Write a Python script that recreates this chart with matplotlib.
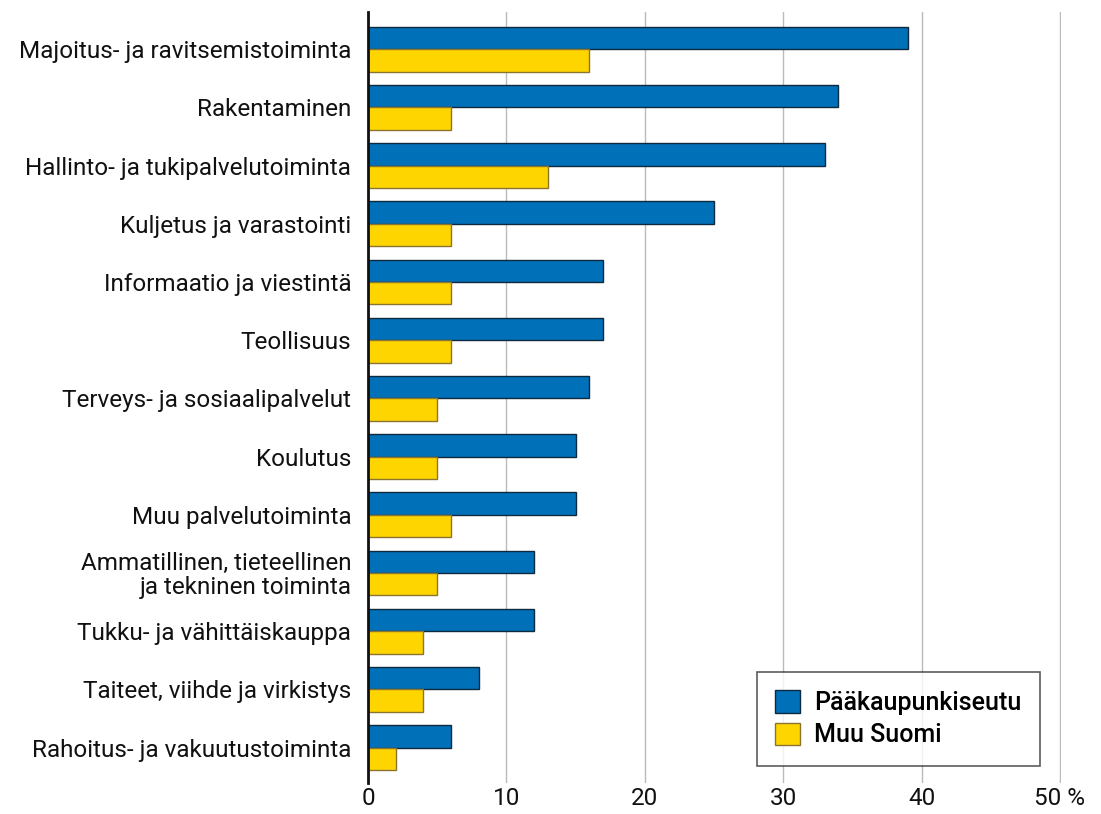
import numpy as np
import matplotlib.pyplot as plt
from matplotlib.patches import Patch

categories = [
    "Majoitus- ja ravitsemistoiminta",
    "Rakentaminen",
    "Hallinto- ja tukipalvelutoiminta",
    "Kuljetus ja varastointi",
    "Informaatio ja viestintä",
    "Teollisuus",
    "Terveys- ja sosiaalipalvelut",
    "Koulutus",
    "Muu palvelutoiminta",
    "Ammatillinen, tieteellinen\nja tekninen toiminta",
    "Tukku- ja vähittäiskauppa",
    "Taiteet, viihde ja virkistys",
    "Rahoitus- ja vakuutustoiminta",
]
paakaupunkiseutu = [39, 34, 33, 25, 17, 17, 16, 15, 15, 12, 12, 8, 6]
muu_suomi = [16, 6, 13, 6, 6, 6, 5, 5, 6, 5, 4, 4, 2]
x_ticks = [0, 10, 20, 30, 40, 50]
x_labels = ["0", "10", "20", "30", "40", "50 %"]

BLUE = "#0070b8"
YELLOW = "#ffd500"

plt.rcParams["font.family"] = ["Roboto", "DejaVu Sans"]

fig = plt.figure(figsize=(11.01, 8.14), dpi=100)
ax = fig.add_axes([368 / 1101, 31 / 814, 693 / 1101, 771 / 814])

y = np.arange(len(categories))
h = 0.385
ax.barh(y - h / 2, paakaupunkiseutu, height=h, color=BLUE,
        edgecolor="#0d2a40", linewidth=1.0, zorder=3)
ax.barh(y + h / 2, muu_suomi, height=h, color=YELLOW,
        edgecolor="#8a7530", linewidth=1.0, zorder=3)

ax.set_ylim(len(categories) - 1 + 0.61, -0.64)
ax.set_xlim(0, 50.08)
ax.set_yticks(y)
ax.set_yticklabels(categories, fontsize=17.5, linespacing=1.05)
ax.set_xticks(x_ticks)
ax.set_xticklabels(x_labels, fontsize=17.5)
ax.tick_params(axis="both", length=0, colors="#111111")
ax.tick_params(axis="y", pad=12)
ax.tick_params(axis="x", pad=3)

ax.grid(axis="x", color="#bbbbbb", linewidth=1.0, zorder=0)
for side in ["top", "right", "bottom"]:
    ax.spines[side].set_visible(False)
ax.spines["left"].set_linewidth(2.0)
ax.spines["left"].set_color("#111111")
ax.spines["left"].set_zorder(4)

handles = [
    Patch(facecolor=BLUE, edgecolor="#0d2a40", linewidth=1.0, label="Pääkaupunkiseutu"),
    Patch(facecolor=YELLOW, edgecolor="#8a7530", linewidth=1.0, label="Muu Suomi"),
]
leg = ax.legend(handles=handles, loc="lower right", bbox_to_anchor=(0.970, 0.022),
                frameon=True, fancybox=False, handlelength=1.0,
                handleheight=1.0, handletextpad=0.55, borderpad=0.75,
                labelspacing=0.3, borderaxespad=0,
                prop={"size": 18, "weight": "medium"})
leg.get_frame().set_edgecolor("#333333")
leg.get_frame().set_linewidth(1.2)

fig.savefig("out.png", dpi=100)
